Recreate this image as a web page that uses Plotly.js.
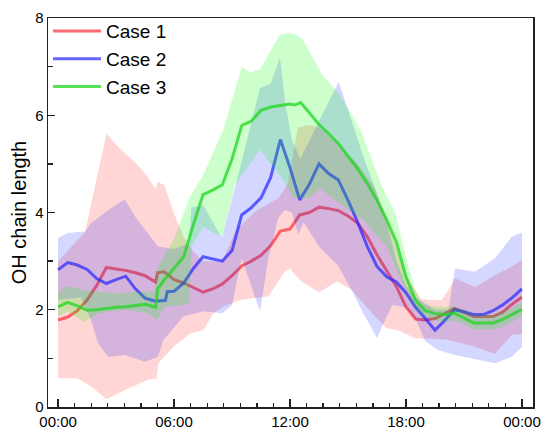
<!DOCTYPE html>
<html>
<head>
<meta charset="utf-8">
<script src="https://cdn.plot.ly/plotly-3.0.1.min.js"></script>
<style>html,body{margin:0;padding:0;background:#fff}</style>
</head>
<body>
<div id="chart" style="width:544px;height:430px"></div>
<script>
// Hour of day (0-24) and OH chain length for three cases: mean line plus spread band.
const case1Hours = [0,0.5,1,1.5,2,2.5,3,3.5,4,4.5,5.05,5.15,5.5,6,6.5,7,7.5,8,8.5,9,9.5,10,10.5,11,11.5,12,12.5,13,13.5,14,14.5,15,15.5,16,16.5,17,17.5,18,18.5,19,19.5,20,20.5,21,21.5,22,22.5,23,23.5,24];
const case1Values = [1.79,1.85,1.98,2.2,2.5,2.87,2.84,2.81,2.76,2.70,2.57,2.76,2.78,2.62,2.55,2.45,2.36,2.43,2.53,2.70,2.90,3.0,3.12,3.32,3.62,3.66,3.95,4.0,4.11,4.08,4.04,3.93,3.78,3.50,3.13,2.80,2.48,2.06,1.81,1.79,1.82,1.92,2.03,1.95,1.86,1.86,1.86,1.95,2.12,2.26];

const case2Hours = [0,0.5,1,1.5,2,2.5,3,3.5,4,4.5,5,5.55,5.65,6,6.5,7,7.5,8,8.5,9,9.5,10,10.5,11,11.5,12,12.5,13,13.5,14,14.5,15,15.5,16,16.5,17,17.5,18,18.5,19,19.5,20,20.5,21,21.5,22,22.5,23,23.5,24];
const case2Values = [2.82,2.97,2.92,2.83,2.64,2.54,2.62,2.69,2.43,2.24,2.18,2.19,2.37,2.38,2.55,2.85,3.09,3.05,3.0,3.22,3.95,4.10,4.30,4.72,5.50,4.92,4.26,4.58,5.0,4.80,4.67,4.25,3.80,3.30,2.89,2.68,2.57,2.35,2.05,1.82,1.58,1.78,2.0,1.96,1.90,1.90,1.98,2.10,2.25,2.43];

const case3Hours = [0,0.5,1,1.5,2,2.5,3,3.5,4,4.5,5.05,5.15,5.5,6,6.5,7,7.5,8,8.5,9,9.5,10,10.5,11,11.5,12,12.25,12.55,13,13.5,14,14.5,15,15.5,16,16.5,17,17.5,18,18.5,19,19.5,20,20.5,21,21.5,22,22.5,23,23.5,24];
const case3Values = [2.06,2.15,2.08,1.99,2.0,2.03,2.05,2.06,2.08,2.11,2.05,2.43,2.62,2.85,3.09,3.75,4.37,4.46,4.57,5.1,5.79,5.88,6.10,6.17,6.20,6.23,6.21,6.26,6.05,5.81,5.62,5.42,5.16,4.90,4.60,4.25,3.85,3.40,2.68,2.19,1.98,1.92,1.90,1.93,1.83,1.73,1.73,1.73,1.80,1.90,2.01];

// Band edges (upper and lower) for each case
const case1UpperHours = [0,1.4,2.5,3.1,4.05,4.57,5.05,5.15,5.5,6.0,6.5,7.0,7.5,8.5,9.16,10.19,11.4,11.9,12.4,13.0,13.5,14.5,15.5,16.4,17.0,17.5,18.0,18.8,19.85,20.2,20.53,21.57,22.6,23.47,24];
const case1Upper = [3.0,3.6,5.62,5.35,5.01,4.77,4.48,4.63,4.56,3.98,3.5,3.2,3.0,3.0,3.61,4.02,4.30,4.6,5.75,5.8,5.75,5.4,5.0,4.5,3.9,3.3,2.7,2.21,2.2,2.41,2.65,2.47,2.71,2.89,3.02];
const case1LowerHours = [0,1.0,1.72,2.5,3.45,4.66,5.1,5.19,5.97,6.83,7.52,8.03,8.55,9.41,10.88,11.74,12.0,12.26,12.6,13.12,13.5,14.43,15.2,15.64,16.4,17.0,17.6,18.5,19.3,20.2,21.57,22.6,23.47,24];
const case1Lower = [0.59,0.59,0.42,0.16,0.35,0.56,0.58,0.9,1.24,1.51,1.58,1.93,2.06,2.2,2.28,2.79,2.85,2.72,2.58,2.45,2.36,2.58,2.41,2.2,1.86,1.62,1.58,1.41,1.41,1.38,1.24,1.09,1.48,1.5];

const case2UpperHours = [0,0.5,1.4,1.7,2.6,3.45,4.0,4.66,5.17,6.0,6.75,6.9,7.5,8.47,9.24,10.45,11.0,11.48,11.74,12.09,12.53,14.52,15.27,15.79,16.3,17.0,17.5,18.0,18.5,19.5,20.2,20.53,21.57,22.6,23.47,24];
const case2Upper = [3.47,3.58,3.61,3.78,4.05,4.27,3.91,3.57,3.30,3.25,3.35,4.1,4.16,3.48,4.64,6.56,6.65,7.18,6.29,5.5,5.1,6.69,5.76,5.15,4.6,3.8,3.0,2.5,2.25,2.0,2.0,2.85,2.78,3.06,3.50,3.59];
const case2LowerHours = [0,1.2,1.7,2.07,2.59,3.45,4.48,5.17,5.45,6.48,7.52,8.5,9.0,9.5,10.45,10.88,11.4,11.74,12.1,12.43,12.7,13.5,14.5,15.27,15.79,16.5,17.0,17.3,18.0,18.5,19.0,19.67,20.53,22.6,23.47,24];
const case2Lower = [2.2,2.25,1.8,1.31,1.03,1.07,0.93,1.03,1.38,1.86,1.97,1.93,2.1,3.06,1.97,3.06,3.89,4.05,4.0,3.55,3.8,3.3,2.9,2.34,1.93,1.42,1.86,2.1,2.05,1.8,1.35,1.17,1.07,0.90,1.03,1.24];

const case3UpperHours = [0,0.5,1.2,2.9,4.3,5.0,5.1,5.45,5.97,6.48,6.83,7.35,7.52,8.55,9.5,9.93,10.45,10.97,11.48,12.0,12.3,12.62,12.97,13.31,13.74,14.52,15.21,15.72,16.24,16.76,17.45,17.95,18.47,18.72,19,19.5,20,20.5,21,21.5,22,22.5,23,23.5,24];
const case3Upper = [2.35,2.49,2.41,2.34,2.37,2.37,2.82,3.09,3.43,3.98,4.33,4.67,4.78,5.7,7.0,6.88,6.94,7.31,7.66,7.69,7.66,7.58,7.34,7.10,6.79,6.45,6.0,5.63,5.08,4.53,3.98,3.16,2.41,2.2,2.1,2.07,2.05,2.07,1.98,1.90,1.90,1.90,1.97,2.05,2.15];
const case3LowerHours = [0,0.5,1.38,2.07,3.45,4.66,5.1,5.53,6.48,6.8,6.9,7.5,8.47,9.16,10.45,11.0,11.6,12.2,13.0,13.55,14.5,15.79,17.0,18.04,18.55,19,19.5,20,20.5,21,21.5,22,22.5,23,23.5,24];
const case3Lower = [1.86,1.96,1.75,1.93,2.0,1.93,1.79,2.06,2.10,2.15,3.3,3.7,3.5,4.57,5.29,5.0,4.7,4.3,4.3,4.5,4.2,3.85,3.3,2.34,2.0,1.85,1.78,1.75,1.78,1.7,1.6,1.6,1.6,1.65,1.75,1.88];

const tickHours = [0, 6, 12, 18, 24];
const tickLabels = ['00:00', '06:00', '12:00', '18:00', '00:00'];
const caseNames = ['Case 1', 'Case 2', 'Case 3'];

const FONT = 'Liberation Sans, Arial, Helvetica, sans-serif';

// Closed polygon: upper edge left-to-right, then lower edge right-to-left
function band(upH, up, loH, lo, fill) {
  return {
    x: upH.concat(loH.slice().reverse()),
    y: up.concat(lo.slice().reverse()),
    type: 'scatter', mode: 'lines', fill: 'toself',
    fillcolor: fill, line: {width: 0, color: fill},
    hoverinfo: 'skip', showlegend: false
  };
}
function line(h, v, name, color) {
  return {x: h, y: v, name: name, type: 'scatter', mode: 'lines',
          line: {color: color, width: 3}};
}

const traces = [
  band(case1UpperHours, case1Upper, case1LowerHours, case1Lower, 'rgba(255,0,0,0.165)'),
  line(case1Hours, case1Values, caseNames[0], 'rgba(255,45,55,0.7)'),
  band(case2UpperHours, case2Upper, case2LowerHours, case2Lower, 'rgba(0,20,255,0.17)'),
  line(case2Hours, case2Values, caseNames[1], 'rgba(40,40,255,0.72)'),
  band(case3UpperHours, case3Upper, case3LowerHours, case3Lower, 'rgba(0,255,0,0.2)'),
  line(case3Hours, case3Values, caseNames[2], 'rgba(30,215,30,0.75)')
];

const layout = {
  width: 544, height: 430,
  margin: {l: 48, r: 11, t: 18, b: 23},
  paper_bgcolor: '#fff', plot_bgcolor: '#fff',
  font: {family: FONT, color: '#000'},
  showlegend: true,
  legend: {x: 0.0, y: 1.015, xanchor: 'left', yanchor: 'top',
           bgcolor: 'rgba(0,0,0,0)', borderwidth: 0,
           font: {family: FONT, size: 19}, itemwidth: 48, tracegroupgap: 0},
  xaxis: {
    range: [-0.52, 24.57], tickmode: 'array', tickvals: tickHours, ticktext: tickLabels,
    ticks: 'inside', ticklen: 8, tickwidth: 1.3, tickcolor: '#222',
    showline: true, mirror: true, linecolor: '#222', linewidth: 1.5,
    showgrid: false, zeroline: false,
    tickfont: {family: FONT, size: 15},
    minor: {tickmode: 'linear', tick0: 0, dtick: 6/7, ticks: 'inside', ticklen: 4.5,
            tickwidth: 1.3, tickcolor: '#222', showgrid: false}
  },
  yaxis: {
    range: [0, 8], dtick: 2, tick0: 0,
    ticks: 'inside', ticklen: 7, tickwidth: 1.3, tickcolor: '#222',
    showline: true, mirror: true, linecolor: '#222', linewidth: 1.5,
    showgrid: false, zeroline: false,
    tickfont: {family: FONT, size: 15},
    title: {text: 'OH chain length', font: {family: FONT, size: 20}, standoff: 3},
    minor: {dtick: 1, ticks: 'inside', ticklen: 4.5, tickwidth: 1.3, tickcolor: '#222', showgrid: false}
  }
};

Plotly.newPlot('chart', traces, layout, {staticPlot: true, displayModeBar: false});
</script>
</body>
</html>
